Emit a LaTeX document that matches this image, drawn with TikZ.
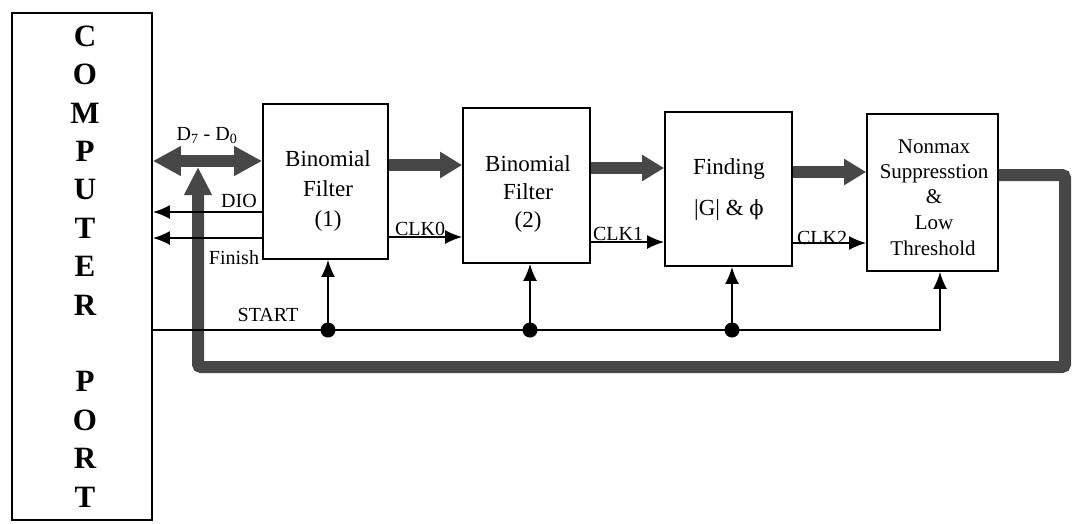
\documentclass[tikz,border=0pt]{standalone}
\usepackage{fontspec}
\setmainfont{Liberation Serif}
\newfontfamily\dvserif{DejaVu Serif}
\usetikzlibrary{arrows.meta}
\begin{document}
\begin{tikzpicture}[x=1pt,y=-1pt,
  box/.style={draw, line width=1.8pt, inner sep=0pt},
  lbl/.style={inner sep=0pt, anchor=base, font=\fontsize{20}{22}\selectfont},
  txt/.style={inner sep=0pt, anchor=base, font=\fontsize{23}{26}\selectfont},
  txts/.style={inner sep=0pt, anchor=base, font=\fontsize{21}{24}\selectfont},
  wire/.style={line width=1.8pt, -{Latex[length=17pt,width=14pt]}},
  fat/.style={line width=12pt, draw=black!72, -{Triangle[length=22pt,width=25pt]}},
  dotn/.style={circle, fill, inner sep=0pt, minimum size=15pt}]
\useasboundingbox (0,0) rectangle (1077,523);

% boxes
\node[box, minimum width=140pt, minimum height=507pt] (port) at (82,266.5) {};
\node[inner sep=0pt, align=center, font=\fontsize{31}{38.4}\selectfont\bfseries] (portT) at (85,266.5)
  {C\\O\\M\\P\\U\\T\\E\\R\\[38.4pt]P\\O\\R\\T};
\node[box, minimum width=125pt, minimum height=155pt] (b1) at (325.5,181.5) {};
\node[box, minimum width=127pt, minimum height=155pt] (b2) at (526.5,185.5) {};
\node[box, minimum width=127pt, minimum height=154pt] (b3) at (728.5,189) {};
\node[box, minimum width=131pt, minimum height=157pt] (b4) at (932.5,192.5) {};

% box texts
\node[txt] (t1a) at (328,166) {Binomial};
\node[txt] (t1b) at (328,196) {Filter};
\node[txt] (t1c) at (328,226) {(1)};
\node[txt] (t2a) at (528,171) {Binomial};
\node[txt] (t2b) at (528,199) {Filter};
\node[txt] (t2c) at (528,227) {(2)};
\node[txt] (t3a) at (729,174) {Finding};
\node[txt] (t3b) at (729,215) {|G| \& {\dvserif\fontsize{21}{24}\selectfont ϕ}};
\node[txts] (t4a) at (934,153) {Nonmax};
\node[txts] (t4b) at (934,178) {Suppresstion};
\node[txts] (t4c) at (934,203) {\&};
\node[txts] (t4d) at (934,229) {Low};
\node[txts] (t4e) at (933,255) {Threshold};

% feedback bus
\coordinate (fA) at (1065,175);
\coordinate (fB) at (1065,367);
\coordinate (fC) at (198,367);
\coordinate (fD) at (198,167);
\draw[line width=12pt, draw=black!72, rounded corners=3pt, -{Triangle[length=28pt,width=26pt]}]
  (b4.east |- fA) -- (fA) -- (fB) -- (fC) -- (fD);

% data bus D7-D0
\draw[line width=12pt, draw=black!72, {Triangle[length=28pt,width=28pt]}-{Triangle[length=28pt,width=28pt]}]
  (port.east |- 0,161) -- (b1.west |- 0,161);
\node[lbl] (lD) at (207,140) {D\textsubscript{7} - D\textsubscript{0}};

% fat data arrows
\draw[fat] (b1.east |- 0,165) -- (b2.west |- 0,165);
\draw[fat] (b2.east |- 0,168) -- (b3.west |- 0,168);
\draw[fat] (b3.east |- 0,172) -- (b4.west |- 0,172);

% DIO / Finish
\draw[wire] (b1.west |- 0,212) -- (port.east |- 0,212);
\draw[wire] (b1.west |- 0,238) -- (port.east |- 0,238);
\node[lbl] (lDIO) at (239,207) {DIO};
\node[lbl] (lFin) at (234,264) {Finish};

% clocks
\draw[wire] (b1.east |- 0,237) -- (b2.west |- 0,237);
\draw[wire] (b2.east |- 0,242) -- (b3.west |- 0,242);
\draw[wire] (b3.east |- 0,243) -- (b4.west |- 0,243);
\node[lbl] (lC0) at (420,235) {CLK0};
\node[lbl] (lC1) at (618,240) {CLK1};
\node[lbl] (lC2) at (822,244) {CLK2};

% START
\coordinate (d1) at (328,330);
\coordinate (d2) at (530,330);
\coordinate (d3) at (732,330);
\coordinate (sE) at (940,330);
\draw[wire] (port.east |- d1) -- (sE) -- (b4.south -| sE);
\draw[wire] (d1) -- (b1.south -| d1);
\draw[wire] (d2) -- (b2.south -| d2);
\draw[wire] (d3) -- (b3.south -| d3);
\node[dotn] (n1) at (d1) {};
\node[dotn] (n2) at (d2) {};
\node[dotn] (n3) at (d3) {};
\node[lbl] (lS) at (268,321) {START};
\end{tikzpicture}
\end{document}
